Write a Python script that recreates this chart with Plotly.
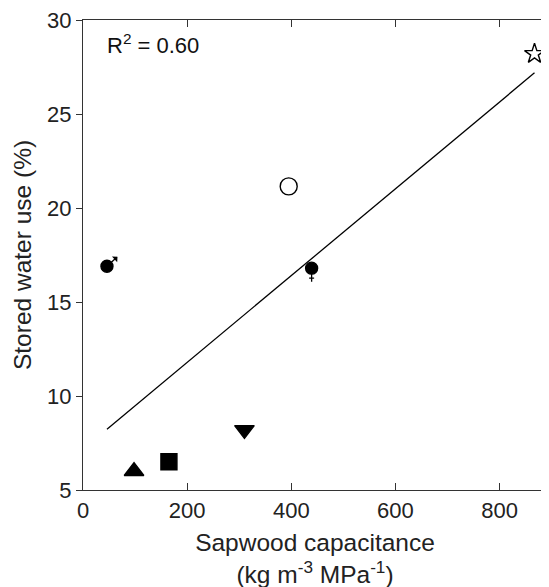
import numpy as np
import plotly.graph_objects as go

# Data
groups = ["male", "female", "tri_up", "square", "tri_down", "open_circle", "star"]
capacitance = [46, 439, 98, 165, 310, 395, 867]
stored_water = [16.9, 16.8, 6.0, 6.5, 8.2, 21.15, 28.2]
marker_symbols = ["circle", "circle", "triangle-up", "square", "triangle-down", "circle-open", "star-open"]
marker_sizes = [12, 12, 17, 16, 17, 17, 15]

x_ticks = [0, 200, 400, 600, 800]
y_ticks = [5, 10, 15, 20, 25, 30]
r2_text = "R<sup>2</sup> = 0.60"

FONT = "Liberation Sans, Arial, sans-serif"

fig = go.Figure()

# Regression line computed from the data
slope, intercept = np.polyfit(capacitance, stored_water, 1)
xl = np.array([min(capacitance), max(capacitance)])
fig.add_trace(go.Scatter(x=xl, y=slope * xl + intercept, mode="lines",
                         line=dict(color="black", width=1.3), showlegend=False,
                         hoverinfo="skip"))

fig.add_trace(go.Scatter(
    x=capacitance, y=stored_water, mode="markers", cliponaxis=False,
    marker=dict(symbol=marker_symbols, size=marker_sizes, color="#000000",
                opacity=1, line=dict(color="#000000", width=1.4)),
    showlegend=False))

# male sign arrow
fig.add_annotation(x=capacitance[0], y=stored_water[0], xref="x", yref="y",
                   ax=12, ay=-11, showarrow=True, arrowside="start", arrowhead=2,
                   arrowsize=0.9, arrowwidth=1.3, arrowcolor="black", text="")
# female sign: stem and crossbar
fig.add_annotation(x=capacitance[1], y=stored_water[1], xref="x", yref="y",
                   ax=0, ay=15, showarrow=True, arrowhead=0, arrowwidth=1.3,
                   arrowcolor="black", text="", standoff=0, startstandoff=0)
for dx in (-4, 4):
    fig.add_annotation(x=capacitance[1], y=stored_water[1], xref="x", yref="y",
                       ax=dx, ay=0, yshift=-10, showarrow=True, arrowhead=0,
                       arrowwidth=1.3, arrowcolor="black", text="",
                       standoff=0, startstandoff=0)

fig.add_annotation(x=0.047, y=0.948, xref="paper", yref="paper", text=r2_text,
                   showarrow=False, xanchor="left", yanchor="middle",
                   font=dict(family=FONT, size=22, color="#111"))

fig.update_layout(
    width=549, height=587,
    margin=dict(l=75, r=10, t=12, b=105),
    plot_bgcolor="white", paper_bgcolor="white",
    font=dict(family=FONT, size=22, color="#222"),
    xaxis=dict(range=[0, 891], tickvals=x_ticks, ticks="inside", ticklen=7,
               tickcolor="#333", showline=True, linecolor="#333", linewidth=1.3,
               mirror="ticks", showgrid=False, zeroline=False, automargin=False,
               tickfont=dict(size=22), ticklabeloverflow="allow",
               title=dict(text="Sapwood capacitance<br>(kg m<sup>-3</sup> MPa<sup>-1</sup>)",
                          standoff=12, font=dict(size=24.5))),
    yaxis=dict(range=[5, 30], tickvals=y_ticks, ticks="outside", ticklen=6,
               tickcolor="#333", showline=True, linecolor="#333", linewidth=1.3,
               mirror=True, showgrid=False, zeroline=False, automargin=False,
               tickfont=dict(size=22), ticklabeloverflow="allow",
               title=dict(text="Stored water use (%)", standoff=8, font=dict(size=24.5))),
    yaxis2=dict(range=[5, 30], tickvals=y_ticks, ticks="inside", ticklen=6,
                tickcolor="#333", overlaying="y", side="right", showticklabels=False,
                showgrid=False, zeroline=False, showline=False, automargin=False),
)

# invisible trace to activate yaxis2
fig.add_trace(go.Scatter(x=[capacitance[0]], y=[stored_water[0]], yaxis="y2",
                         mode="markers", marker=dict(opacity=0), showlegend=False,
                         hoverinfo="skip"))

fig.write_html("out.html")
